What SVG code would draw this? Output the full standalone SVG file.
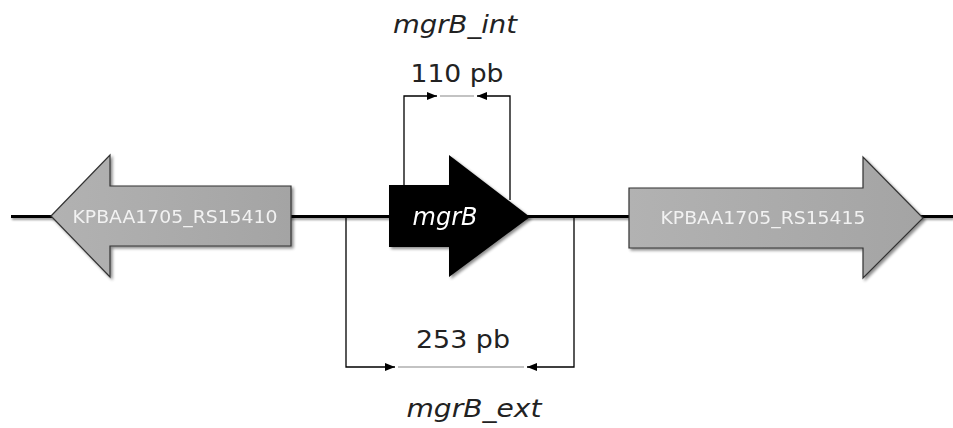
<svg xmlns="http://www.w3.org/2000/svg" width="953" height="428" viewBox="0 0 953 428">
  <style>
    .label { font-family: "DejaVu Sans", Verdana, sans-serif; }
    .size { font-size: 25px; fill: #222; }
    .name { font-size: 25px; font-style: italic; fill: #222; }
    .gene { font-size: 17px; fill: #f2f2f2; }
    .bracket { fill: none; stroke: #000; stroke-width: 1.3; }
    .span { stroke: #888; stroke-width: 1.2; }
    .gray { fill: url(#grayFill); stroke: #333; stroke-width: 1.2; }
  </style>
  <defs>
    <linearGradient id="grayFill" x1="0" y1="0" x2="1" y2="0">
      <stop offset="0" stop-color="#b2b2b2"/>
      <stop offset="1" stop-color="#a4a4a4"/>
    </linearGradient>
    <filter id="shadow" x="-10%" y="-10%" width="125%" height="130%">
      <feGaussianBlur in="SourceAlpha" stdDeviation="1.5"/>
      <feOffset dx="2" dy="2" result="b"/>
      <feComponentTransfer><feFuncA type="linear" slope="0.45"/></feComponentTransfer>
      <feMerge><feMergeNode/><feMergeNode in="SourceGraphic"/></feMerge>
    </filter>
    <filter id="lineShadow" filterUnits="userSpaceOnUse" x="0" y="205" width="953" height="25">
      <feGaussianBlur in="SourceAlpha" stdDeviation="1"/>
      <feOffset dx="1" dy="1.5" result="b"/>
      <feComponentTransfer><feFuncA type="linear" slope="0.4"/></feComponentTransfer>
      <feMerge><feMergeNode/><feMergeNode in="SourceGraphic"/></feMerge>
    </filter>
    <marker id="head" viewBox="0 0 10 10" refX="10" refY="5" markerWidth="10" markerHeight="10" markerUnits="userSpaceOnUse" orient="auto">
      <path d="M0,1 L10,5 L0,9 Z" fill="#000"/>
    </marker>
  </defs>

  <!-- backbone -->
  <g id="backbone" filter="url(#lineShadow)">
    <rect x="11" y="215" width="942" height="3" fill="#000"/>
  </g>

  <!-- flanking genes -->
  <g id="gene-left" filter="url(#shadow)">
    <polygon class="gray" points="51,216 110,155 110,186 291,186 291,246 110,246 110,277"/>
    <text class="label gene" x="175" y="223" text-anchor="middle" textLength="205" lengthAdjust="spacingAndGlyphs">KPBAA1705_RS15410</text>
  </g>
  <g id="gene-right" filter="url(#shadow)">
    <polygon class="gray" points="629,188 863,188 863,157 923,218 863,278 863,248 629,248"/>
    <text class="label gene" x="763" y="224" text-anchor="middle" textLength="205" lengthAdjust="spacingAndGlyphs">KPBAA1705_RS15415</text>
  </g>

  <!-- primer brackets -->
  <g id="connectors">
    <polyline class="bracket" points="404,186 404,96 437,96" marker-end="url(#head)"/>
    <polyline class="bracket" points="510,200 510,96 477,96" marker-end="url(#head)"/>
    <line class="span" x1="440" y1="96" x2="474" y2="96"/>
    <polyline class="bracket" points="346,217 346,367 395,367" marker-end="url(#head)"/>
    <polyline class="bracket" points="574,217 574,367 527,367" marker-end="url(#head)"/>
    <line class="span" x1="398" y1="367" x2="524" y2="367"/>
  </g>

  <!-- target gene -->
  <g id="gene-mgrB" filter="url(#shadow)">
    <polygon points="389,185 449,185 449,155 530,217 449,277 449,247 389,247" fill="#000"/>
    <text class="label" x="445" y="225" text-anchor="middle" font-size="24" font-style="italic" fill="#fff">mgrB</text>
  </g>

  <g id="amplicon-int">
    <text class="label name" x="455" y="33" text-anchor="middle" textLength="124" lengthAdjust="spacingAndGlyphs">mgrB_int</text>
    <text class="label size" x="457" y="82" text-anchor="middle" textLength="93" lengthAdjust="spacingAndGlyphs">110 pb</text>
  </g>
  <g id="amplicon-ext">
    <text class="label size" x="463" y="348" text-anchor="middle" textLength="94" lengthAdjust="spacingAndGlyphs">253 pb</text>
    <text class="label name" x="474" y="417" text-anchor="middle" textLength="135" lengthAdjust="spacingAndGlyphs">mgrB_ext</text>
  </g>
</svg>
